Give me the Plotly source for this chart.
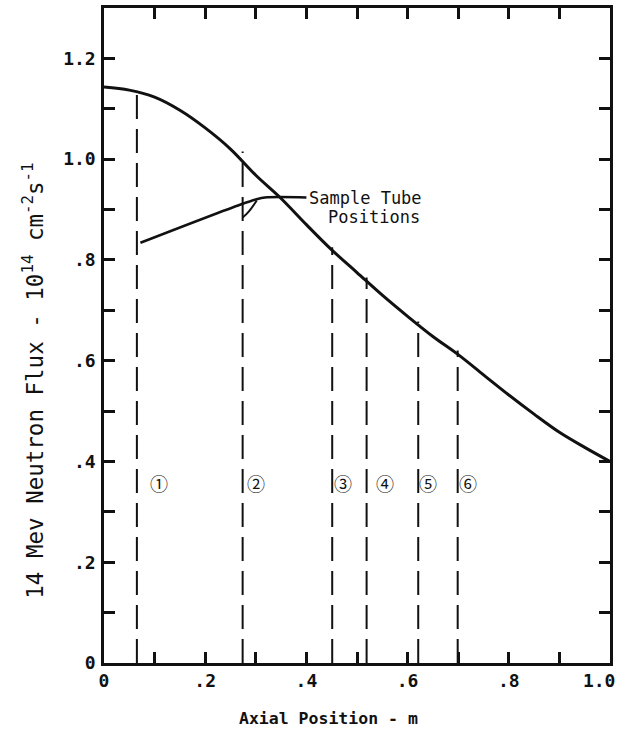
import plotly.graph_objects as go

# Flux curve (14 MeV neutron flux, 1e14 cm^-2 s^-1) vs axial position (m)
flux_x = [0.0, 0.05, 0.1, 0.15, 0.2, 0.25, 0.3, 0.35, 0.4, 0.45, 0.5,
          0.55, 0.6, 0.65, 0.7, 0.75, 0.8, 0.85, 0.9, 0.95, 1.0]
flux_y = [1.143, 1.137, 1.123, 1.097, 1.062, 1.02, 0.968, 0.922, 0.870, 0.820, 0.775,
          0.730, 0.688, 0.648, 0.612, 0.572, 0.532, 0.494, 0.458, 0.428, 0.400]

# Sample tube positions (dashed verticals) and their tops
tube_x = [0.065, 0.274, 0.451, 0.519, 0.621, 0.699]
tube_top = [1.145, 1.015, 0.825, 0.765, 0.678, 0.620]
tube_labels = ["①", "②", "③", "④", "⑤", "⑥"]
label_x = [0.108, 0.300, 0.473, 0.556, 0.641, 0.720]
label_y = 0.358

# Leader line for "Sample Tube Positions"
leader_x = [0.072, 0.27, 0.30, 0.318, 0.40]
leader_y = [0.834, 0.910, 0.920, 0.924, 0.924]
branch_x = [0.274, 0.286, 0.302]
branch_y = [0.884, 0.896, 0.918]

# Ticks every 0.1, labels every 0.2
x_tickvals = [0, 0.1, 0.2, 0.3, 0.4, 0.5, 0.6, 0.7, 0.8, 0.9, 1.0]
x_ticktext = ["0", "", ".2", "", ".4", "", ".6", "", ".8", "", "1.0\u00a0\u00a0"]
y_tickvals = [0, 0.1, 0.2, 0.3, 0.4, 0.5, 0.6, 0.7, 0.8, 0.9, 1.0, 1.1, 1.2, 1.3]
y_ticktext = ["0", "", ".2", "", ".4", "", ".6", "", ".8", "", "1.0", "", "1.2", ""]

X_RANGE = [0, 1.0]
Y_RANGE = [0, 1.3]

FONT = "DejaVu Sans Mono, Liberation Mono, monospace"
INK = "#111111"
TICKLEN = 11
WIDTH, HEIGHT = 623, 752
MARGIN = dict(l=104, r=13, t=8, b=89)

fig = go.Figure()

for tx, tt in zip(tube_x, tube_top):
    fig.add_trace(go.Scatter(x=[tx, tx], y=[0, tt], mode="lines",
                             line=dict(color=INK, width=2, dash="24px,10px"),
                             hoverinfo="skip", showlegend=False))

fig.add_trace(go.Scatter(x=flux_x, y=flux_y, mode="lines",
                         line=dict(color=INK, width=3, shape="spline"),
                         showlegend=False))
fig.add_trace(go.Scatter(x=leader_x, y=leader_y, mode="lines",
                         line=dict(color=INK, width=2.5, shape="spline"),
                         showlegend=False))
fig.add_trace(go.Scatter(x=branch_x, y=branch_y, mode="lines",
                         line=dict(color=INK, width=2, shape="spline"),
                         showlegend=False))

for lx, lt in zip(label_x, tube_labels):
    fig.add_annotation(x=lx, y=label_y, text=lt, showarrow=False,
                       font=dict(family="Noto Sans CJK JP, DejaVu Sans", size=18, color=INK))

fig.add_annotation(x=0.402, y=0.922, text="Sample Tube", showarrow=False,
                   xanchor="left", yanchor="middle",
                   font=dict(family=FONT, size=17, color=INK))
fig.add_annotation(x=0.438, y=0.886, text="Positions", showarrow=False,
                   xanchor="left", yanchor="middle",
                   font=dict(family=FONT, size=17, color=INK))

# Axis titles
fig.add_annotation(xref="paper", yref="paper", x=0.444, y=-0.084,
                   text="<b>Axial Position - m</b>", showarrow=False,
                   xanchor="center", yanchor="middle",
                   font=dict(family=FONT, size=16.5, color=INK))
fig.add_annotation(xref="paper", yref="paper", x=0, xshift=-71, y=0.431,
                   text="14 Mev Neutron Flux - 10<sup>14</sup> cm<sup>-2</sup>s<sup>-1</sup>",
                   textangle=-90, showarrow=False,
                   xanchor="center", yanchor="middle",
                   font=dict(family=FONT, size=22.5, color=INK))

axis_common = dict(showgrid=False, zeroline=False, showline=True, linecolor=INK,
                   linewidth=2.5, mirror="allticks", ticks="inside", ticklen=TICKLEN,
                   tickwidth=2.5, tickcolor=INK, tickmode="array",
                   ticklabeloverflow="allow",
                   tickfont=dict(family=FONT, size=18, color=INK, weight="bold"))

fig.update_xaxes(range=X_RANGE, tickvals=x_tickvals, ticktext=x_ticktext,
                 **axis_common)
fig.update_yaxes(range=Y_RANGE, tickvals=y_tickvals, ticktext=y_ticktext,
                 ticklabelstandoff=2, **axis_common)

fig.update_layout(width=WIDTH, height=HEIGHT,
                  margin=dict(**MARGIN, autoexpand=False),
                  paper_bgcolor="white", plot_bgcolor="white",
                  showlegend=False)

fig.write_html("out.html", config={"displayModeBar": False},
               post_script="document.body.style.margin='0px';document.body.style.padding='0px';")
